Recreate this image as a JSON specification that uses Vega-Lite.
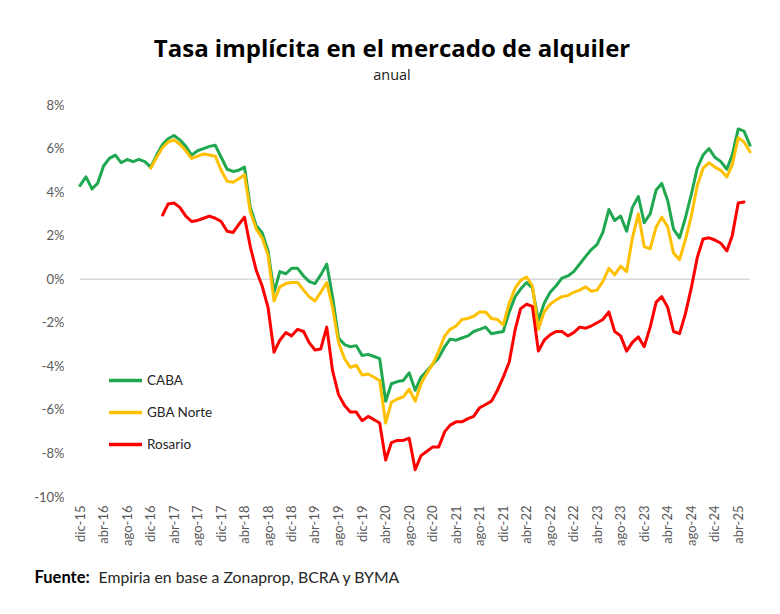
{
  "$schema": "https://vega.github.io/schema/vega-lite/v6.json",
  "autosize": {"type": "none"},
  "width": 670,
  "height": 392,
  "padding": {"left": 80, "top": 105, "right": 30, "bottom": 117},
  "background": "white",
  "title": {
    "text": "Tasa implícita en el mercado de alquiler",
    "subtitle": "anual",
    "anchor": "middle",
    "dx": -23,
    "offset": 17,
    "font": "Open Sans",
    "fontSize": 24,
    "fontWeight": "bold",
    "color": "#000000",
    "subtitleFont": "Open Sans",
    "subtitleFontSize": 14.5,
    "subtitleColor": "#222222",
    "subtitlePadding": 7
  },
  "config": {
    "view": {"stroke": null},
    "font": "Lato"
  },
  "datasets": {
    "serie": [
      {"d": "2015-12-01", "CABA": 4.3},
      {"d": "2016-01-01", "CABA": 4.7},
      {"d": "2016-02-01", "CABA": 4.15},
      {"d": "2016-03-01", "CABA": 4.4},
      {"d": "2016-04-01", "CABA": 5.2},
      {"d": "2016-05-01", "CABA": 5.55},
      {"d": "2016-06-01", "CABA": 5.7},
      {"d": "2016-07-01", "CABA": 5.35},
      {"d": "2016-08-01", "CABA": 5.5},
      {"d": "2016-09-01", "CABA": 5.4},
      {"d": "2016-10-01", "CABA": 5.5},
      {"d": "2016-11-01", "CABA": 5.4},
      {"d": "2016-12-01", "CABA": 5.15, "GBA Norte": 5.1},
      {"d": "2017-01-01", "CABA": 5.7, "GBA Norte": 5.6},
      {"d": "2017-02-01", "CABA": 6.2, "GBA Norte": 6.05, "Rosario": 2.95},
      {"d": "2017-03-01", "CABA": 6.45, "GBA Norte": 6.3, "Rosario": 3.45},
      {"d": "2017-04-01", "CABA": 6.6, "GBA Norte": 6.4, "Rosario": 3.5},
      {"d": "2017-05-01", "CABA": 6.4, "GBA Norte": 6.2, "Rosario": 3.3},
      {"d": "2017-06-01", "CABA": 6.1, "GBA Norte": 5.9, "Rosario": 2.9},
      {"d": "2017-07-01", "CABA": 5.7, "GBA Norte": 5.55, "Rosario": 2.65},
      {"d": "2017-08-01", "CABA": 5.9, "GBA Norte": 5.65, "Rosario": 2.7},
      {"d": "2017-09-01", "CABA": 6.0, "GBA Norte": 5.75, "Rosario": 2.8},
      {"d": "2017-10-01", "CABA": 6.1, "GBA Norte": 5.7, "Rosario": 2.9},
      {"d": "2017-11-01", "CABA": 6.15, "GBA Norte": 5.65, "Rosario": 2.8},
      {"d": "2017-12-01", "CABA": 5.6, "GBA Norte": 5.0, "Rosario": 2.65},
      {"d": "2018-01-01", "CABA": 5.05, "GBA Norte": 4.5, "Rosario": 2.2},
      {"d": "2018-02-01", "CABA": 4.95, "GBA Norte": 4.45, "Rosario": 2.15},
      {"d": "2018-03-01", "CABA": 5.0, "GBA Norte": 4.6, "Rosario": 2.5},
      {"d": "2018-04-01", "CABA": 5.15, "GBA Norte": 4.8, "Rosario": 2.85},
      {"d": "2018-05-01", "CABA": 3.3, "GBA Norte": 3.1, "Rosario": 1.5},
      {"d": "2018-06-01", "CABA": 2.45, "GBA Norte": 2.3, "Rosario": 0.4},
      {"d": "2018-07-01", "CABA": 2.15, "GBA Norte": 1.9, "Rosario": -0.3},
      {"d": "2018-08-01", "CABA": 1.3, "GBA Norte": 1.1, "Rosario": -1.3},
      {"d": "2018-09-01", "CABA": -0.6, "GBA Norte": -1.0, "Rosario": -3.35},
      {"d": "2018-10-01", "CABA": 0.35, "GBA Norte": -0.35, "Rosario": -2.8},
      {"d": "2018-11-01", "CABA": 0.25, "GBA Norte": -0.2, "Rosario": -2.45},
      {"d": "2018-12-01", "CABA": 0.5, "GBA Norte": -0.15, "Rosario": -2.6},
      {"d": "2019-01-01", "CABA": 0.5, "GBA Norte": -0.15, "Rosario": -2.3},
      {"d": "2019-02-01", "CABA": 0.15, "GBA Norte": -0.5, "Rosario": -2.4},
      {"d": "2019-03-01", "CABA": -0.1, "GBA Norte": -0.8, "Rosario": -2.9},
      {"d": "2019-04-01", "CABA": -0.2, "GBA Norte": -1.0, "Rosario": -3.25},
      {"d": "2019-05-01", "CABA": 0.2, "GBA Norte": -0.6, "Rosario": -3.2},
      {"d": "2019-06-01", "CABA": 0.7, "GBA Norte": -0.15, "Rosario": -2.2},
      {"d": "2019-07-01", "CABA": -0.8, "GBA Norte": -1.3, "Rosario": -4.2},
      {"d": "2019-08-01", "CABA": -2.7, "GBA Norte": -2.9, "Rosario": -5.3},
      {"d": "2019-09-01", "CABA": -3.0, "GBA Norte": -3.65, "Rosario": -5.8},
      {"d": "2019-10-01", "CABA": -3.1, "GBA Norte": -4.05, "Rosario": -6.1},
      {"d": "2019-11-01", "CABA": -3.05, "GBA Norte": -3.95, "Rosario": -6.1},
      {"d": "2019-12-01", "CABA": -3.5, "GBA Norte": -4.4, "Rosario": -6.5},
      {"d": "2020-01-01", "CABA": -3.45, "GBA Norte": -4.35, "Rosario": -6.3},
      {"d": "2020-02-01", "CABA": -3.55, "GBA Norte": -4.5, "Rosario": -6.45},
      {"d": "2020-03-01", "CABA": -3.65, "GBA Norte": -4.65, "Rosario": -6.6},
      {"d": "2020-04-01", "CABA": -5.6, "GBA Norte": -6.6, "Rosario": -8.3},
      {"d": "2020-05-01", "CABA": -4.8, "GBA Norte": -5.65, "Rosario": -7.5},
      {"d": "2020-06-01", "CABA": -4.7, "GBA Norte": -5.5, "Rosario": -7.4},
      {"d": "2020-07-01", "CABA": -4.65, "GBA Norte": -5.4, "Rosario": -7.4},
      {"d": "2020-08-01", "CABA": -4.3, "GBA Norte": -5.05, "Rosario": -7.3},
      {"d": "2020-09-01", "CABA": -5.1, "GBA Norte": -5.6, "Rosario": -8.75},
      {"d": "2020-10-01", "CABA": -4.5, "GBA Norte": -4.8, "Rosario": -8.1},
      {"d": "2020-11-01", "CABA": -4.2, "GBA Norte": -4.3, "Rosario": -7.9},
      {"d": "2020-12-01", "CABA": -3.9, "GBA Norte": -3.9, "Rosario": -7.7},
      {"d": "2021-01-01", "CABA": -3.6, "GBA Norte": -3.3, "Rosario": -7.7},
      {"d": "2021-02-01", "CABA": -3.1, "GBA Norte": -2.6, "Rosario": -7.0},
      {"d": "2021-03-01", "CABA": -2.75, "GBA Norte": -2.3, "Rosario": -6.7},
      {"d": "2021-04-01", "CABA": -2.8, "GBA Norte": -2.15, "Rosario": -6.55},
      {"d": "2021-05-01", "CABA": -2.7, "GBA Norte": -1.85, "Rosario": -6.55},
      {"d": "2021-06-01", "CABA": -2.6, "GBA Norte": -1.8, "Rosario": -6.4},
      {"d": "2021-07-01", "CABA": -2.4, "GBA Norte": -1.7, "Rosario": -6.3},
      {"d": "2021-08-01", "CABA": -2.3, "GBA Norte": -1.5, "Rosario": -5.9},
      {"d": "2021-09-01", "CABA": -2.2, "GBA Norte": -1.5, "Rosario": -5.75},
      {"d": "2021-10-01", "CABA": -2.5, "GBA Norte": -1.8, "Rosario": -5.6},
      {"d": "2021-11-01", "CABA": -2.45, "GBA Norte": -1.85, "Rosario": -5.1},
      {"d": "2021-12-01", "CABA": -2.4, "GBA Norte": -2.1, "Rosario": -4.5},
      {"d": "2022-01-01", "CABA": -1.5, "GBA Norte": -1.1, "Rosario": -3.8},
      {"d": "2022-02-01", "CABA": -0.8, "GBA Norte": -0.4, "Rosario": -2.3},
      {"d": "2022-03-01", "CABA": -0.45, "GBA Norte": -0.05, "Rosario": -1.35},
      {"d": "2022-04-01", "CABA": -0.15, "GBA Norte": 0.1, "Rosario": -1.15},
      {"d": "2022-05-01", "CABA": -0.4, "GBA Norte": -0.3, "Rosario": -1.25},
      {"d": "2022-06-01", "CABA": -1.9, "GBA Norte": -2.3, "Rosario": -3.3},
      {"d": "2022-07-01", "CABA": -1.1, "GBA Norte": -1.5, "Rosario": -2.8},
      {"d": "2022-08-01", "CABA": -0.6, "GBA Norte": -1.15, "Rosario": -2.55},
      {"d": "2022-09-01", "CABA": -0.3, "GBA Norte": -0.95, "Rosario": -2.4},
      {"d": "2022-10-01", "CABA": 0.05, "GBA Norte": -0.8, "Rosario": -2.4},
      {"d": "2022-11-01", "CABA": 0.15, "GBA Norte": -0.75, "Rosario": -2.6},
      {"d": "2022-12-01", "CABA": 0.35, "GBA Norte": -0.6, "Rosario": -2.45},
      {"d": "2023-01-01", "CABA": 0.7, "GBA Norte": -0.5, "Rosario": -2.2},
      {"d": "2023-02-01", "CABA": 1.05, "GBA Norte": -0.35, "Rosario": -2.25},
      {"d": "2023-03-01", "CABA": 1.35, "GBA Norte": -0.55, "Rosario": -2.15},
      {"d": "2023-04-01", "CABA": 1.6, "GBA Norte": -0.5, "Rosario": -2.0},
      {"d": "2023-05-01", "CABA": 2.15, "GBA Norte": -0.1, "Rosario": -1.85},
      {"d": "2023-06-01", "CABA": 3.2, "GBA Norte": 0.5, "Rosario": -1.5},
      {"d": "2023-07-01", "CABA": 2.7, "GBA Norte": 0.2, "Rosario": -2.4},
      {"d": "2023-08-01", "CABA": 2.9, "GBA Norte": 0.6, "Rosario": -2.6},
      {"d": "2023-09-01", "CABA": 2.2, "GBA Norte": 0.35, "Rosario": -3.3},
      {"d": "2023-10-01", "CABA": 3.3, "GBA Norte": 1.9, "Rosario": -2.9},
      {"d": "2023-11-01", "CABA": 3.8, "GBA Norte": 3.0, "Rosario": -2.65},
      {"d": "2023-12-01", "CABA": 2.6, "GBA Norte": 1.5, "Rosario": -3.1},
      {"d": "2024-01-01", "CABA": 3.0, "GBA Norte": 1.4, "Rosario": -2.2},
      {"d": "2024-02-01", "CABA": 4.1, "GBA Norte": 2.4, "Rosario": -1.05},
      {"d": "2024-03-01", "CABA": 4.4, "GBA Norte": 2.85, "Rosario": -0.8},
      {"d": "2024-04-01", "CABA": 3.6, "GBA Norte": 2.4, "Rosario": -1.3},
      {"d": "2024-05-01", "CABA": 2.3, "GBA Norte": 1.2, "Rosario": -2.4},
      {"d": "2024-06-01", "CABA": 1.9, "GBA Norte": 0.9, "Rosario": -2.5},
      {"d": "2024-07-01", "CABA": 2.8, "GBA Norte": 1.8, "Rosario": -1.6},
      {"d": "2024-08-01", "CABA": 3.9, "GBA Norte": 2.9, "Rosario": -0.4},
      {"d": "2024-09-01", "CABA": 5.1, "GBA Norte": 4.3, "Rosario": 1.0},
      {"d": "2024-10-01", "CABA": 5.7, "GBA Norte": 5.1, "Rosario": 1.85},
      {"d": "2024-11-01", "CABA": 6.0, "GBA Norte": 5.35, "Rosario": 1.9},
      {"d": "2024-12-01", "CABA": 5.6, "GBA Norte": 5.15, "Rosario": 1.8},
      {"d": "2025-01-01", "CABA": 5.4, "GBA Norte": 5.0, "Rosario": 1.65},
      {"d": "2025-02-01", "CABA": 5.05, "GBA Norte": 4.7, "Rosario": 1.3},
      {"d": "2025-03-01", "CABA": 5.7, "GBA Norte": 5.25, "Rosario": 2.0},
      {"d": "2025-04-01", "CABA": 6.9, "GBA Norte": 6.5, "Rosario": 3.5},
      {"d": "2025-05-01", "CABA": 6.8, "GBA Norte": 6.3, "Rosario": 3.55},
      {"d": "2025-06-01", "CABA": 6.15, "GBA Norte": 5.85}
    ],
    "cero": [{"z": 0}]
  },
  "layer": [
    {
      "data": {"name": "cero"},
      "mark": {"type": "rule", "color": "#d9d9d9", "strokeWidth": 1.5},
      "encoding": {
        "y": {"field": "z", "type": "quantitative", "scale": {"domain": [-10, 8]}}
      }
    },
    {
      "data": {"name": "serie"},
      "transform": [
        {"fold": ["CABA", "GBA Norte", "Rosario"], "as": ["serie", "valor"]},
        {"filter": "isValid(datum.valor)"}
      ],
      "mark": {"type": "line", "strokeWidth": 3, "strokeJoin": "round", "strokeCap": "round"},
      "encoding": {
        "x": {
          "field": "d",
          "type": "temporal",
          "scale": {
            "type": "utc",
            "domain": [
              {"year": 2015, "month": 12, "date": 1, "utc": true},
              {"year": 2025, "month": 6, "date": 1, "utc": true}
            ]
          },
          "axis": {
            "values": [
              {"year": 2015, "month": 12, "date": 1, "utc": true},
              {"year": 2016, "month": 4, "date": 1, "utc": true},
              {"year": 2016, "month": 8, "date": 1, "utc": true},
              {"year": 2016, "month": 12, "date": 1, "utc": true},
              {"year": 2017, "month": 4, "date": 1, "utc": true},
              {"year": 2017, "month": 8, "date": 1, "utc": true},
              {"year": 2017, "month": 12, "date": 1, "utc": true},
              {"year": 2018, "month": 4, "date": 1, "utc": true},
              {"year": 2018, "month": 8, "date": 1, "utc": true},
              {"year": 2018, "month": 12, "date": 1, "utc": true},
              {"year": 2019, "month": 4, "date": 1, "utc": true},
              {"year": 2019, "month": 8, "date": 1, "utc": true},
              {"year": 2019, "month": 12, "date": 1, "utc": true},
              {"year": 2020, "month": 4, "date": 1, "utc": true},
              {"year": 2020, "month": 8, "date": 1, "utc": true},
              {"year": 2020, "month": 12, "date": 1, "utc": true},
              {"year": 2021, "month": 4, "date": 1, "utc": true},
              {"year": 2021, "month": 8, "date": 1, "utc": true},
              {"year": 2021, "month": 12, "date": 1, "utc": true},
              {"year": 2022, "month": 4, "date": 1, "utc": true},
              {"year": 2022, "month": 8, "date": 1, "utc": true},
              {"year": 2022, "month": 12, "date": 1, "utc": true},
              {"year": 2023, "month": 4, "date": 1, "utc": true},
              {"year": 2023, "month": 8, "date": 1, "utc": true},
              {"year": 2023, "month": 12, "date": 1, "utc": true},
              {"year": 2024, "month": 4, "date": 1, "utc": true},
              {"year": 2024, "month": 8, "date": 1, "utc": true},
              {"year": 2024, "month": 12, "date": 1, "utc": true},
              {"year": 2025, "month": 4, "date": 1, "utc": true}
            ],
            "labelExpr": "['ene','feb','mar','abr','may','jun','jul','ago','sep','oct','nov','dic'][utcmonth(datum.value)] + '-' + utcFormat(datum.value, '%y')",
            "labelAngle": -90,
            "labelFont": "Lato",
            "labelFontSize": 13,
            "labelColor": "#595959",
            "labelPadding": 8,
            "labelOverlap": false,
            "labelBound": false,
            "labelFlush": false,
            "ticks": false,
            "domain": false,
            "grid": false,
            "title": "Empiria en base a Zonaprop, BCRA y BYMA",
            "titleFont": "Lato",
            "titleFontSize": 15.8,
            "titleFontWeight": "normal",
            "titleColor": "#262626",
            "titleAnchor": "start",
            "titleAlign": "left",
            "titleBaseline": "middle",
            "titleX": 18,
            "titleY": 80
          }
        },
        "y": {
          "field": "valor",
          "type": "quantitative",
          "scale": {"domain": [-10, 8], "nice": false, "zero": false},
          "axis": {
            "values": [-10, -8, -6, -4, -2, 0, 2, 4, 6, 8],
            "labelExpr": "datum.value + '%'",
            "labelFont": "Lato",
            "labelFontSize": 13,
            "labelColor": "#595959",
            "labelPadding": 16,
            "ticks": false,
            "domain": false,
            "grid": false,
            "title": "Fuente:",
            "titleFont": "Lato",
            "titleFontSize": 16.5,
            "titleFontWeight": "bold",
            "titleColor": "#000000",
            "titleAngle": 0,
            "titleAlign": "left",
            "titleBaseline": "middle",
            "titleAnchor": null,
            "titleX": -46,
            "titleY": 472
          }
        },
        "color": {
          "field": "serie",
          "type": "nominal",
          "scale": {
            "domain": ["CABA", "GBA Norte", "Rosario"],
            "range": ["#1fa84f", "#ffc000", "#ff0000"]
          },
          "legend": {
            "orient": "none",
            "legendX": 27,
            "legendY": 257,
            "title": null,
            "symbolType": "stroke",
            "symbolSize": 1089,
            "symbolStrokeWidth": 3.5,
            "labelFont": "Lato",
            "labelFontSize": 13.5,
            "labelColor": "#262626",
            "labelOffset": 3,
            "rowPadding": 6
          }
        }
      }
    }
  ]
}
